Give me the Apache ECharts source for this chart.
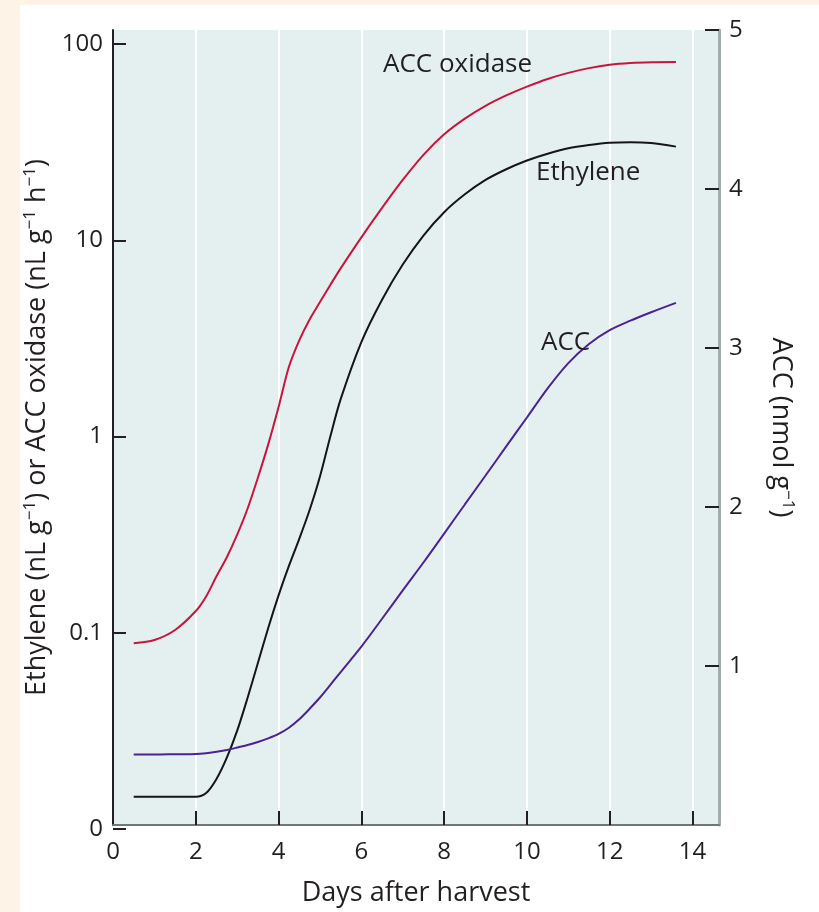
<!DOCTYPE html>
<html>
<head>
<meta charset="utf-8">
<script src="https://cdn.jsdelivr.net/npm/echarts@6/dist/echarts.min.js"></script>
<style>
html,body{margin:0;padding:0;background:#fdf3e6;width:819px;height:912px;overflow:hidden;}
#panel{position:absolute;left:20px;top:5px;width:799px;height:907px;background:#ffffff;}
#chart{position:absolute;left:0;top:0;width:819px;height:912px;}
</style>
</head>
<body>
<div id="panel"></div>
<div id="chart"></div>
<script>
// Days after harvest
const days = [0.5, 1, 1.5, 2, 2.25, 2.5, 2.75, 3, 3.25, 3.5, 3.75, 4, 4.25, 4.5, 4.75, 5, 5.25, 5.5, 6, 6.5, 7, 7.5, 8, 8.5, 9, 9.5, 10, 10.5, 11, 11.5, 12, 12.5, 13, 13.6];
// ACC oxidase (nL g-1 h-1), log axis
const accOxidase = [0.0883, 0.0918, 0.1033, 0.129, 0.1531, 0.1941, 0.2427, 0.3162, 0.4285, 0.6166, 0.912, 1.413, 2.265, 3.09, 3.95, 4.84, 5.92, 7.19, 10.35, 14.62, 20.28, 27.23, 34.67, 41.69, 48.42, 54.70, 60.67, 66.37, 71.29, 75.34, 78.34, 79.98, 80.72, 80.91];
// Ethylene (nL g-1), log axis
const ethylene = [0.0146, 0.0146, 0.0146, 0.0146, 0.01525, 0.0180, 0.0231, 0.0317, 0.0465, 0.0701, 0.1057, 0.155, 0.219, 0.301, 0.422, 0.625, 1.00, 1.55, 3.03, 4.98, 7.52, 10.57, 13.9, 17.14, 20.3, 23.01, 25.5, 27.61, 29.4, 30.55, 31.4, 31.62, 31.3, 30.0];
// ACC (nmol g-1), right linear axis
const acc = [0.443, 0.443, 0.445, 0.447, 0.452, 0.460, 0.472, 0.487, 0.503, 0.522, 0.545, 0.573, 0.612, 0.665, 0.731, 0.802, 0.881, 0.962, 1.122, 1.297, 1.476, 1.651, 1.833, 2.016, 2.198, 2.381, 2.563, 2.746, 2.905, 3.025, 3.112, 3.172, 3.225, 3.284];

const xTicks = [0, 2, 4, 6, 8, 10, 12, 14];
const logTicks = [0.01, 0.1, 1, 10, 100];
const logTickLabels = ['0', '0.1', '1', '10', '100'];
const accTicks = [1, 2, 3, 4, 5];

const FONT = 'Open Sans';
const INK = '#231f20';

const chart = echarts.init(document.getElementById('chart'), null, {renderer: 'canvas'});

const supStyle = {fontSize: 17, lineHeight: 17, verticalAlign: 'top', fontFamily: FONT, color: INK};
const nameStyle = {fontSize: 27, fontFamily: FONT, color: INK, lineHeight: 31, rich: {sup: supStyle}};
const tickLabel = {fontSize: 24, fontFamily: FONT, color: INK};
const tickLine = {color: INK, width: 2};

function pairs(vals) { return days.map((d, i) => [d, vals[i]]); }

chart.setOption({
  animation: false,
  backgroundColor: 'transparent',
  grid: [
    {left: 113, right: 100, top: 30, bottom: 83, show: true, backgroundColor: '#e4f0ef', borderWidth: 0},
    {left: 113, right: 100, top: 44, bottom: 83, show: false}
  ],
  xAxis: [
    {
      gridIndex: 0, type: 'value', min: 0, max: 14.64, interval: 2,
      axisLine: {show: true, lineStyle: {color: '#6e7877', width: 2}},
      axisTick: {show: true, inside: true, length: 14, customValues: xTicks.slice(1), lineStyle: tickLine},
      axisLabel: Object.assign({margin: 15, customValues: xTicks, formatter: v => String(v)}, tickLabel),
      splitLine: {show: true, lineStyle: {color: '#ffffff', width: 2}},
      name: 'Days after harvest', nameLocation: 'middle', nameGap: 55,
      nameTextStyle: {fontSize: 27, fontFamily: FONT, color: INK}
    },
    {gridIndex: 1, type: 'value', min: 0, max: 14.64, show: false}
  ],
  yAxis: [
    {
      gridIndex: 0, type: 'value', position: 'left', min: 0, max: 1,
      axisLine: {show: true, lineStyle: {color: INK, width: 2}},
      axisTick: {show: false}, axisLabel: {show: false}, splitLine: {show: false},
      name: 'Ethylene (nL g{sup|\u22121}) or ACC oxidase (nL g{sup|\u22121} h{sup|\u22121})',
      nameLocation: 'middle', nameGap: 60, nameRotate: 90, nameTextStyle: nameStyle
    },
    {
      gridIndex: 0, type: 'value', position: 'right', min: 0, max: 5, interval: 1,
      axisLine: {show: true, lineStyle: {color: '#a3adac', width: 3}},
      axisTick: {show: true, inside: true, length: 14, customValues: accTicks, lineStyle: tickLine},
      axisLabel: Object.assign({margin: 10, customValues: accTicks}, tickLabel),
      splitLine: {show: false},
      name: 'ACC (nmol g{sup|\u22121})',
      nameLocation: 'middle', nameGap: 46, nameRotate: -90, nameTextStyle: nameStyle
    },
    {
      gridIndex: 1, type: 'log', logBase: 10, min: 0.01, max: 100, position: 'left',
      axisLine: {show: false},
      axisTick: {show: true, inside: true, length: 13, lineStyle: tickLine},
      axisLabel: Object.assign({margin: 10, formatter: v => {
        const i = logTicks.findIndex(t => Math.abs(Math.log10(t) - Math.log10(v)) < 1e-6);
        return i >= 0 ? logTickLabels[i] : '';
      }}, tickLabel),
      splitLine: {show: false}
    }
  ],
  series: [
    {
      name: 'ACC oxidase', type: 'line', xAxisIndex: 1, yAxisIndex: 2,
      data: pairs(accOxidase), symbol: 'none', smooth: 0.3,
      lineStyle: {color: '#c8143f', width: 2}, silent: true, z: 3
    },
    {
      name: 'Ethylene', type: 'line', xAxisIndex: 1, yAxisIndex: 2,
      data: pairs(ethylene), symbol: 'none', smooth: 0.3,
      lineStyle: {color: '#151515', width: 2}, silent: true, z: 3
    },
    {
      name: 'ACC', type: 'line', xAxisIndex: 0, yAxisIndex: 1,
      data: pairs(acc), symbol: 'none', smooth: 0.3,
      lineStyle: {color: '#4b2291', width: 2}, silent: true, z: 3
    }
  ],
  graphic: [
    {type: 'text', x: 383, y: 65, z: 100, silent: true, style: {text: 'ACC oxidase', fontSize: 26, fontFamily: FONT, fill: INK, verticalAlign: 'middle'}},
    {type: 'text', x: 536, y: 173, z: 100, silent: true, style: {text: 'Ethylene', fontSize: 26, fontFamily: FONT, fill: INK, verticalAlign: 'middle'}},
    {type: 'text', x: 541, y: 343, z: 100, silent: true, style: {text: 'ACC', fontSize: 26, fontFamily: FONT, fill: INK, verticalAlign: 'middle'}}
  ]
});
</script>
</body>
</html>
